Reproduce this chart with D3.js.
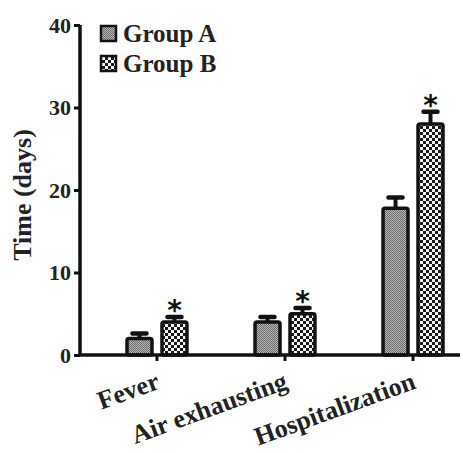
<!DOCTYPE html>
<html><head><meta charset="utf-8">
<script src="https://cdn.jsdelivr.net/npm/d3@7"></script>
<style>body{margin:0;background:#fff}text{font-family:"Liberation Serif","Times New Roman",serif;font-weight:bold}</style>
</head><body><svg id="c" width="463" height="453"></svg>
<script>
const categories = ["Fever", "Air exhausting", "Hospitalization"];
const groups = ["Group A", "Group B"];
const valuesA = [2.0, 4.0, 17.8];
const errorsA = [0.6, 0.6, 1.3];
const valuesB = [4.0, 5.0, 28.0];
const errorsB = [0.6, 0.7, 1.5];
const significant = [true, true, true];
const yTicks = [0, 10, 20, 30, 40];

const svg = d3.select("#c");
const m = {left: 80, top: 25, right: 460, bottom: 355};
const y = d3.scaleLinear().domain([0, 40]).range([m.bottom, m.top]);
const x = d3.scaleBand().domain(categories).range([87.6, 482.4]).paddingInner(0.516).paddingOuter(0.3);
const xs = d3.scaleBand().domain(groups).range([1, x.bandwidth() - 1]).paddingInner(0.286);

const defs = svg.append("defs");
const pa = defs.append("pattern").attr("id", "pA").attr("patternUnits", "userSpaceOnUse").attr("width", 2).attr("height", 2);
pa.append("rect").attr("width", 2).attr("height", 2).attr("fill", "#b8b8b8");
pa.append("rect").attr("width", 1).attr("height", 1).attr("fill", "#6a6a6a");
pa.append("rect").attr("x", 1).attr("y", 1).attr("width", 1).attr("height", 1).attr("fill", "#6a6a6a");
const pb = defs.append("pattern").attr("id", "pB").attr("patternUnits", "userSpaceOnUse").attr("width", 6).attr("height", 6);
pb.append("rect").attr("width", 6).attr("height", 6).attr("fill", "#f4f4f4");
pb.append("rect").attr("width", 3).attr("height", 3).attr("fill", "#1a1a1a");
pb.append("rect").attr("x", 3).attr("y", 3).attr("width", 3).attr("height", 3).attr("fill", "#1a1a1a");
const fills = {"Group A": "url(#pA)", "Group B": "url(#pB)"};

const data = [];
categories.forEach((c, i) => {
  data.push({c, g: "Group A", v: valuesA[i], e: errorsA[i], s: false});
  data.push({c, g: "Group B", v: valuesB[i], e: errorsB[i], s: significant[i]});
});

const bars = svg.append("g");
const stars = svg.append("g");
data.forEach(d => {
  const bx = x(d.c) + xs(d.g), bw = xs.bandwidth(), cx = bx + bw / 2;
  bars.append("line").attr("x1", cx).attr("x2", cx).attr("y1", y(d.v)).attr("y2", y(d.v + d.e)).attr("stroke", "#111").attr("stroke-width", 4);
  bars.append("line").attr("x1", cx - 7).attr("x2", cx + 7).attr("y1", y(d.v + d.e)).attr("y2", y(d.v + d.e))
    .attr("stroke", "#111").attr("stroke-width", 4.5).attr("stroke-linecap", "round");
  bars.append("rect").attr("x", bx).attr("y", y(d.v)).attr("width", bw).attr("height", y(0) - y(d.v))
    .attr("fill", fills[d.g]).attr("stroke", "#111").attr("stroke-width", 3.5).attr("rx", 2);
  if (d.s) stars.append("text").attr("x", cx).attr("y", y(d.v + d.e) + 3).attr("text-anchor", "middle")
    .attr("font-size", 28).style("font-family", "'DejaVu Sans', sans-serif").style("font-weight", "bold").attr("fill", "#111").text("*");
});

// Y axis
const ya = svg.append("g").attr("transform", `translate(${m.left},0)`)
  .call(d3.axisLeft(y).tickValues(yTicks).tickSize(6).tickPadding(3));
ya.select(".domain").attr("stroke", "#111").attr("stroke-width", 3.5).attr("d", `M0,${m.top}V${m.bottom}`);
ya.selectAll(".tick line").attr("stroke", "#111").attr("stroke-width", 3);
ya.selectAll(".tick text").attr("font-size", 22).attr("fill", "#222").attr("font-family", "Liberation Serif").attr("font-weight", "bold");

// X axis
const xa = svg.append("g").attr("transform", `translate(0,${m.bottom})`)
  .call(d3.axisBottom(x).tickSize(6).tickPadding(0));
xa.select(".domain").attr("stroke", "#111").attr("stroke-width", 3.5).attr("d", `M${m.left},0H${m.right}`);
xa.selectAll(".tick line").attr("stroke", "#111").attr("stroke-width", 3);
xa.selectAll(".tick text").attr("font-size", 26).attr("fill", "#222").attr("font-family", "Liberation Serif").attr("font-weight", "bold")
  .attr("text-anchor", "end").attr("y", 0).attr("dy", 0).attr("transform", "translate(4,33) rotate(-20)");

// Y label
svg.append("text").attr("transform", `translate(31,${(m.top + m.bottom) / 2 + 5}) rotate(-90)`)
  .attr("text-anchor", "middle").attr("font-size", 26).attr("fill", "#222").text("Time (days)");

// Legend
const lg = svg.append("g");
groups.forEach((g, i) => {
  const ly = 25 + i * 30;
  lg.append("rect").attr("x", 101).attr("y", ly + 1).attr("width", 15).attr("height", 15).attr("fill", fills[g]).attr("stroke", "#111").attr("stroke-width", 2.5);
  lg.append("text").attr("x", 123).attr("y", ly + 17).attr("font-size", 25).attr("fill", "#222").text(g);
});
</script></body></html>
